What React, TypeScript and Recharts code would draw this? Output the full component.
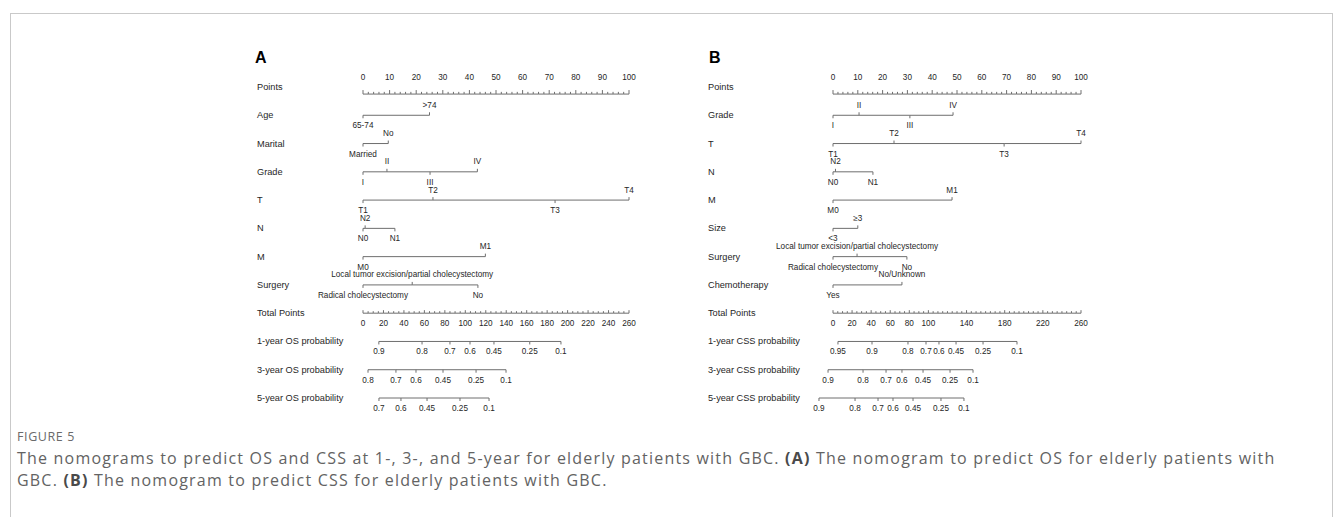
import React from 'react';
import { ComposedChart, Scatter, XAxis, YAxis } from 'recharts';

const SANS = '"Liberation Sans", Arial, Helvetica, sans-serif';
const TEXT = '#262626';
const RULE = '#6e6e6e';

type Side = 'up' | 'down';
type Level = [string, number, Side];

// ---------- shared points scale ----------
const pointLabels = [0, 10, 20, 30, 40, 50, 60, 70, 80, 90, 100];
const pointMinorStep = 2;

// ---------- A: overall survival nomogram ----------
const namesA = [
  'Points', 'Age', 'Marital', 'Grade', 'T', 'N', 'M', 'Surgery', 'Total Points',
  '1-year OS probability', '3-year OS probability', '5-year OS probability',
];
const ageA: Level[] = [['65-74', 0, 'down'], ['>74', 25, 'up']];
const maritalA: Level[] = [['Married', 0, 'down'], ['No', 9.5, 'up']];
const gradeA: Level[] = [['I', 0, 'down'], ['II', 9, 'up'], ['III', 25.2, 'down'], ['IV', 43, 'up']];
const stageTA: Level[] = [['T1', 0, 'down'], ['T2', 26.3, 'up'], ['T3', 72.2, 'down'], ['T4', 100, 'up']];
const stageNA: Level[] = [['N0', 0, 'down'], ['N2', 0.8, 'up'], ['N1', 12, 'down']];
const stageMA: Level[] = [['M0', 0, 'down'], ['M1', 46, 'up']];
const surgeryA: Level[] = [
  ['Radical cholecystectomy', 0, 'down'],
  ['Local tumor excision/partial cholecystectomy', 18.5, 'up'],
  ['No', 43.2, 'down'],
];
const totalLabelsA = [0, 20, 40, 60, 80, 100, 120, 140, 160, 180, 200, 220, 240, 260];
const os1Probs = ['0.9', '0.8', '0.7', '0.6', '0.45', '0.25', '0.1'];
const os1Total = [15.5, 57.7, 85, 104.6, 128, 163, 193.5];
const os3Probs = ['0.8', '0.7', '0.6', '0.45', '0.25', '0.1'];
const os3Total = [4.9, 32.2, 51.8, 78.2, 110.5, 139.8];
const os5Probs = ['0.7', '0.6', '0.45', '0.25', '0.1'];
const os5Total = [15.6, 37.1, 62.6, 94.8, 123.2];

// ---------- B: cancer-specific survival nomogram ----------
const namesB = [
  'Points', 'Grade', 'T', 'N', 'M', 'Size', 'Surgery', 'Chemotherapy', 'Total Points',
  '1-year CSS probability', '3-year CSS probability', '5-year CSS probability',
];
const gradeB: Level[] = [['I', 0, 'down'], ['II', 10.5, 'up'], ['III', 31, 'down'], ['IV', 48.4, 'up']];
const stageTB: Level[] = [['T1', 0, 'down'], ['T2', 24.6, 'up'], ['T3', 69, 'down'], ['T4', 100, 'up']];
const stageNB: Level[] = [['N0', 0, 'down'], ['N2', 1, 'up'], ['N1', 16.1, 'down']];
const stageMB: Level[] = [['M0', 0, 'down'], ['M1', 48, 'up']];
const sizeB: Level[] = [['<3', 0, 'down'], ['≥3', 10, 'up']];
const surgeryB: Level[] = [
  ['Radical cholecystectomy', 0, 'down'],
  ['Local tumor excision/partial cholecystectomy', 9.7, 'up'],
  ['No', 29.8, 'down'],
];
const chemoB: Level[] = [['Yes', 0, 'down'], ['No/Unknown', 27.8, 'up']];
const totalLabelsB = [0, 20, 40, 60, 80, 100, 140, 180, 220, 260];
const css1Probs = ['0.95', '0.9', '0.8', '0.7', '0.6', '0.45', '0.25', '0.1'];
const css1Total = [5.2, 40.9, 78.6, 97.5, 111.1, 129, 157.3, 192.9];
const css3Probs = ['0.9', '0.8', '0.7', '0.6', '0.45', '0.25', '0.1'];
const css3Total = [-5.2, 31.5, 55.6, 72.3, 94.4, 122.7, 146.8];
const css5Probs = ['0.9', '0.8', '0.7', '0.6', '0.45', '0.25', '0.1'];
const css5Total = [-14.7, 23.1, 47.2, 62.9, 83.9, 113.2, 137.3];

type Row =
  | { kind: 'points' }
  | { kind: 'levels'; levels: Level[] }
  | { kind: 'total'; labels: number[]; minorStep: number }
  | { kind: 'prob'; probs: string[]; at: number[] };

const steps = (max: number, step: number) => {
  const out: number[] = [];
  for (let v = 0; v <= max + 1e-9; v += step) out.push(v);
  return out;
};

const txt = (x: number, y: number, s: string, size = 8.2) => (
  <text x={x} y={y} textAnchor="middle" dominantBaseline="central" fontSize={size} fill={TEXT} fontFamily={SANS}>
    {s}
  </text>
);

const levelTick = (p: any) => {
  const { cx, cy, payload } = p;
  const up = payload.side === 'up';
  return (
    <g>
      <line x1={cx} x2={cx} y1={cy} y2={cy + (up ? -3 : 3)} stroke={RULE} strokeWidth={1} />
      {txt(cx, cy + (up ? -10 : 10.5), payload.label)}
    </g>
  );
};

const pointsTick = (p: any) => {
  const { cx, cy, payload } = p;
  return (
    <g>
      <line x1={cx} x2={cx} y1={cy} y2={cy - (payload.major ? 4 : 2.2)} stroke={RULE} strokeWidth={1} />
      {payload.major ? txt(cx, cy - 17, String(payload.x)) : null}
    </g>
  );
};

const totalTick = (p: any) => {
  const { cx, cy, payload } = p;
  return (
    <g>
      <line x1={cx} x2={cx} y1={cy} y2={cy - (payload.major ? 3 : 2)} stroke={RULE} strokeWidth={1} />
      {payload.major ? txt(cx, cy + 10.5, String(payload.x)) : null}
    </g>
  );
};

const probTick = (p: any) => {
  const { cx, cy, payload } = p;
  return (
    <g>
      <line x1={cx} x2={cx} y1={cy} y2={cy + 3} stroke={RULE} strokeWidth={1} />
      {txt(cx, cy + 10.5, payload.label)}
    </g>
  );
};

// the Points rule sits a quarter row below its name
const POINTS_LINE_OFFSET = 0.25;

interface PanelProps {
  left: number;
  x0: number;
  x1: number;
  nameX: number;
  names: string[];
  rows: Row[];
  totalMax: number;
}

function Panel({ left, x0, x1, nameX, names, rows, totalMax }: PanelProps) {
  const W = 420;
  const H = 380;
  const padL = 50;
  const padR = 20;
  const span = x1 - x0;
  const plotL = x0 - padL - left;
  const plotR = x1 + padR - left;
  const ptsDomain = [-(padL * 100) / span, 100 + (padR * 100) / span];
  const totDomain = [-(padL * totalMax) / span, totalMax + (padR * totalMax) / span];
  const lineStyle = { stroke: RULE, strokeWidth: 1 };

  const series = rows.map((r, i) => {
    if (r.kind === 'points') {
      const data = steps(100, pointMinorStep).map((v) => ({ x: v, row: i + POINTS_LINE_OFFSET, major: pointLabels.includes(v) }));
      return <Scatter key={i} xAxisId="pts" yAxisId="row" data={data} line={lineStyle} shape={pointsTick} isAnimationActive={false} />;
    }
    if (r.kind === 'levels') {
      const data = [...r.levels].sort((a, b) => a[1] - b[1]).map(([label, pts, side]) => ({ x: pts, row: i, label, side }));
      return <Scatter key={i} xAxisId="pts" yAxisId="row" data={data} line={lineStyle} shape={levelTick} isAnimationActive={false} />;
    }
    if (r.kind === 'total') {
      const data = steps(totalMax, r.minorStep).map((v) => ({ x: v, row: i, major: r.labels.includes(v) }));
      return <Scatter key={i} xAxisId="tot" yAxisId="row" data={data} line={lineStyle} shape={totalTick} isAnimationActive={false} />;
    }
    const data = r.probs.map((label, k) => ({ x: r.at[k], row: i, label }));
    return <Scatter key={i} xAxisId="tot" yAxisId="row" data={data} line={lineStyle} shape={probTick} isAnimationActive={false} />;
  });

  const nameTick = (p: any) => (
    <text x={nameX} y={p.y} textAnchor="start" dominantBaseline="central" fontSize={9.2} fill={TEXT} fontFamily={SANS}>
      {names[p.payload.value]}
    </text>
  );

  return (
    <div style={{ position: 'absolute', left, top: 40, width: W, height: H }}>
      <ComposedChart width={W} height={H} margin={{ top: 47, bottom: 22, left: 0, right: W - plotR }}>
        <XAxis xAxisId="pts" dataKey="x" type="number" domain={ptsDomain} hide />
        <XAxis xAxisId="tot" dataKey="x" type="number" domain={totDomain} hide />
        <YAxis
          yAxisId="row"
          dataKey="row"
          type="number"
          domain={[0, names.length - 1]}
          reversed
          ticks={names.map((_, k) => k)}
          interval={0}
          width={plotL}
          axisLine={false}
          tickLine={false}
          tick={nameTick}
        />
        {series}
      </ComposedChart>
    </div>
  );
}

const rowsA: Row[] = [
  { kind: 'points' },
  { kind: 'levels', levels: ageA },
  { kind: 'levels', levels: maritalA },
  { kind: 'levels', levels: gradeA },
  { kind: 'levels', levels: stageTA },
  { kind: 'levels', levels: stageNA },
  { kind: 'levels', levels: stageMA },
  { kind: 'levels', levels: surgeryA },
  { kind: 'total', labels: totalLabelsA, minorStep: 5 },
  { kind: 'prob', probs: os1Probs, at: os1Total },
  { kind: 'prob', probs: os3Probs, at: os3Total },
  { kind: 'prob', probs: os5Probs, at: os5Total },
];

const rowsB: Row[] = [
  { kind: 'points' },
  { kind: 'levels', levels: gradeB },
  { kind: 'levels', levels: stageTB },
  { kind: 'levels', levels: stageNB },
  { kind: 'levels', levels: stageMB },
  { kind: 'levels', levels: sizeB },
  { kind: 'levels', levels: surgeryB },
  { kind: 'levels', levels: chemoB },
  { kind: 'total', labels: totalLabelsB, minorStep: 5 },
  { kind: 'prob', probs: css1Probs, at: css1Total },
  { kind: 'prob', probs: css3Probs, at: css3Total },
  { kind: 'prob', probs: css5Probs, at: css5Total },
];

const CAPTION_COLOR = '#636363';
const CAPTION_FONT = '"Open Sans", "Noto Sans", sans-serif';

const captionLine = {
  position: 'absolute' as const,
  left: 17,
  fontFamily: CAPTION_FONT,
  fontSize: 16,
  lineHeight: '22px',
  letterSpacing: 1.2,
  color: CAPTION_COLOR,
  whiteSpace: 'nowrap' as const,
};

export default function App() {
  return (
    <div style={{ position: 'absolute', left: 0, top: 0, width: 1333, height: 517, overflow: 'hidden', background: '#fff' }}>
      <div
        style={{
          position: 'absolute',
          left: 10,
          top: 13,
          width: 1321,
          height: 520,
          borderLeft: '1px solid #c9c9c9',
          borderRight: '1px solid #c9c9c9',
          borderTop: '1px solid #c9c9c9',
        }}
      />
      <svg width={1333} height={80} style={{ position: 'absolute', left: 0, top: 0 }}>
        <text x={255} y={63} fontSize={16} fontWeight="bold" fill="#000" fontFamily={SANS}>A</text>
        <text x={709} y={63} fontSize={16} fontWeight="bold" fill="#000" fontFamily={SANS}>B</text>
      </svg>
      <Panel left={240} x0={363} x1={629} nameX={17} names={namesA} rows={rowsA} totalMax={260} />
      <Panel left={700} x0={833} x1={1081} nameX={8} names={namesB} rows={rowsB} totalMax={260} />
      <div
        style={{
          position: 'absolute',
          left: 17,
          top: 428,
          fontFamily: CAPTION_FONT,
          fontSize: 12.5,
          lineHeight: '17px',
          letterSpacing: 0.6,
          color: '#6a6a6a',
        }}
      >
        FIGURE 5
      </div>
      <div style={{ ...captionLine, top: 447 }}>
        The nomograms to predict OS and CSS at 1-, 3-, and 5-year for elderly patients with GBC. <b style={{ color: '#4a4a4a' }}>(A)</b> The
        nomogram to predict OS for elderly patients with
      </div>
      <div style={{ ...captionLine, top: 469 }}>
        GBC. <b style={{ color: '#4a4a4a' }}>(B)</b> The nomogram to predict CSS for elderly patients with GBC.
      </div>
    </div>
  );
}
